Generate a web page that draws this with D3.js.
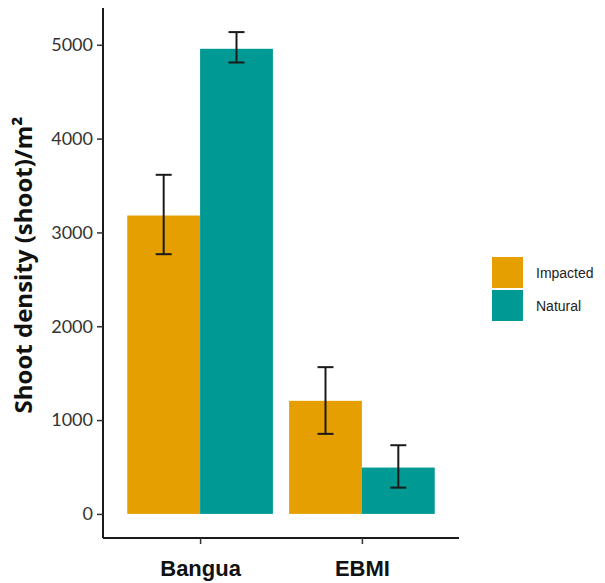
<!DOCTYPE html>
<html>
<head>
<meta charset="utf-8">
<script src="https://cdn.jsdelivr.net/npm/d3@7"></script>
<style>
  html, body { margin: 0; padding: 0; background: #fff; }
  svg { display: block; }
</style>
</head>
<body>
<svg id="chart" width="605" height="583"></svg>
<script>
// Shoot density per site and condition, with error bar limits
const sites = ["Bangua", "EBMI"];
const groups = ["Impacted", "Natural"];
const impactedMean = [3180, 1205];
const impactedLow  = [2768, 853];
const impactedHigh = [3614, 1564];
const naturalMean  = [4957, 494];
const naturalLow   = [4811, 280];
const naturalHigh  = [5135, 732];
const yTicks = [0, 1000, 2000, 3000, 4000, 5000];
const colors = ["#E69F00", "#009994"];

const rows = [];
sites.forEach((s, i) => {
  rows.push({ site: s, group: "Impacted", mean: impactedMean[i], lo: impactedLow[i], hi: impactedHigh[i] });
  rows.push({ site: s, group: "Natural", mean: naturalMean[i], lo: naturalLow[i], hi: naturalHigh[i] });
});

const svg = d3.select("#chart");
const plotLeft = 103, plotRight = 459, plotTop = 8, plotBottom = 538;

// discrete axis with 0.6 units of padding on either side of the categories
const xLin = d3.scaleLinear().domain([0.4, 2.6]).range([plotLeft, plotRight]);
const xCenter = s => xLin(sites.indexOf(s) + 1);
const groupWidth = xLin(0.9) - xLin(0);
const barW = groupWidth / 2;

const maxVal = d3.max(rows, d => d.hi);
const pad = maxVal * 0.05;
const y = d3.scaleLinear().domain([-pad, maxVal + pad]).range([plotBottom, plotTop]);

const color = d3.scaleOrdinal().domain(groups).range(colors);

// bars
svg.append("g").selectAll("rect").data(rows).join("rect")
  .attr("x", d => xCenter(d.site) - groupWidth / 2 + groups.indexOf(d.group) * barW)
  .attr("width", barW)
  .attr("y", d => y(d.mean))
  .attr("height", d => y(0) - y(d.mean))
  .attr("fill", d => color(d.group));

// error bars
const capW = 16;
const eb = svg.append("g").attr("stroke", "#1a1a1a").attr("stroke-width", 2).attr("fill", "none");
rows.forEach(d => {
  const cx = xCenter(d.site) - groupWidth / 2 + groups.indexOf(d.group) * barW + barW / 2;
  eb.append("line").attr("x1", cx).attr("x2", cx).attr("y1", y(d.lo)).attr("y2", y(d.hi));
  eb.append("line").attr("x1", cx - capW / 2).attr("x2", cx + capW / 2).attr("y1", y(d.lo)).attr("y2", y(d.lo));
  eb.append("line").attr("x1", cx - capW / 2).attr("x2", cx + capW / 2).attr("y1", y(d.hi)).attr("y2", y(d.hi));
});

// y axis
const yAxis = svg.append("g").attr("transform", `translate(${plotLeft},0)`)
  .call(d3.axisLeft(y).tickValues(yTicks).tickSize(6).tickPadding(4).tickFormat(d3.format("d")));
yAxis.select(".domain").attr("stroke", "#1a1a1a").attr("stroke-width", 2).attr("d", `M0,${plotTop}V${plotBottom}`);
yAxis.selectAll(".tick line").attr("stroke", "#333").attr("stroke-width", 1.5);
yAxis.selectAll(".tick text").attr("fill", "#333").style("font-family", "Lato, sans-serif").style("font-size", "18px");

// x axis
const xAxis = svg.append("g").attr("transform", `translate(0,${plotBottom})`)
  .call(d3.axisBottom(xLin).tickValues([1, 2]).tickSize(6).tickPadding(16).tickFormat(d => sites[d - 1]));
xAxis.select(".domain").attr("stroke", "#1a1a1a").attr("stroke-width", 2).attr("d", `M${plotLeft},0H${plotRight}`);
xAxis.selectAll(".tick line").attr("stroke", "#333").attr("stroke-width", 1.5);
xAxis.selectAll(".tick text").attr("fill", "#111").style("font-family", "'Liberation Sans', Arial, sans-serif")
  .style("font-size", "22px").style("font-weight", "bold");

// y title
svg.append("text")
  .attr("transform", "translate(32,265) rotate(-90)")
  .attr("text-anchor", "middle")
  .attr("fill", "#111")
  .style("font-family", "'Open Sans', sans-serif")
  .style("font-size", "24px")
  .style("font-weight", "bold")
  .text("Shoot density (shoot)/m²");

// legend
const lg = svg.append("g").attr("transform", "translate(492,257)");
groups.forEach((g, i) => {
  lg.append("rect").attr("x", 0).attr("y", i * 33).attr("width", 31).attr("height", 31).attr("fill", color(g));
  lg.append("text").attr("x", 44).attr("y", i * 33 + 16).attr("dominant-baseline", "central")
    .attr("fill", "#222").style("font-family", "Arial, 'Liberation Sans', sans-serif").style("font-size", "14px").text(g);
});
</script>
</body>
</html>
